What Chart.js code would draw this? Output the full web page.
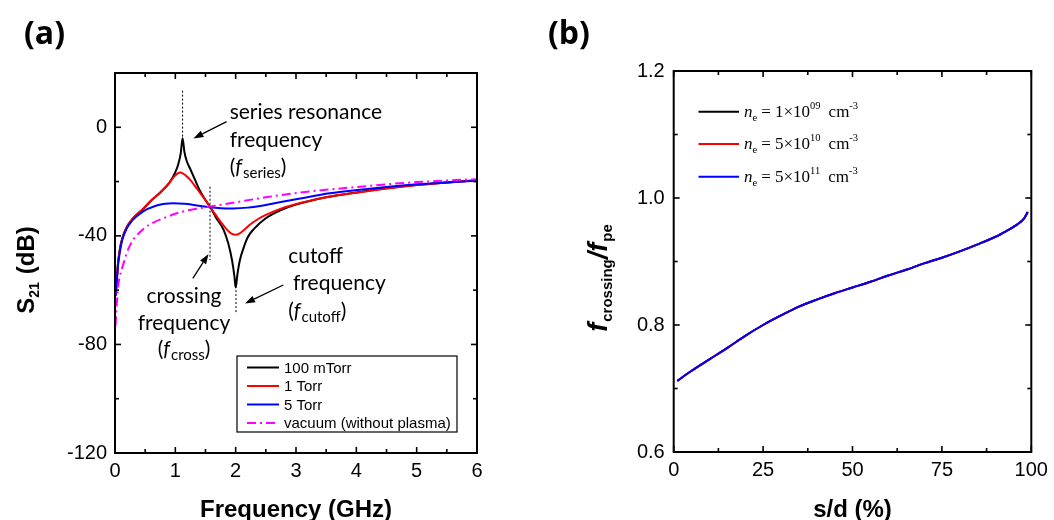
<!DOCTYPE html>
<html><head><meta charset="utf-8">
<script src="https://cdn.jsdelivr.net/npm/chart.js@4.4.1/dist/chart.umd.min.js"></script>
<style>
html,body{margin:0;padding:0;background:#fff}
body{width:1054px;height:520px;overflow:hidden;position:relative}
.pane{position:absolute;top:0;width:527px;height:520px}
</style></head>
<body>
<div class="pane" style="left:0"><canvas id="chartA" width="527" height="520"></canvas></div>
<div class="pane" style="left:527px"><canvas id="chartB" width="527" height="520"></canvas></div>
<script>
// ---------- Panel (a): S21 vs frequency ----------
const freqTicks = [0, 1, 2, 3, 4, 5, 6];
const freqMinorTicks = [0.5, 1.5, 2.5, 3.5, 4.5, 5.5];
const s21Ticks = [-120, -80, -40, 0];
const s21MinorTicks = [-100, -60, -20];

const f_100mTorr = [0.01,0.03,0.05,0.08,0.12,0.19,0.3,0.47,0.6,0.75,0.9,1.0,1.05,1.09,1.12,1.15,1.19,1.24,1.32,1.41,1.5,1.58,1.68,1.8,1.88,1.94,1.98,2.0,2.03,2.07,2.13,2.2,2.3,2.5,2.75,3.0,3.5,4.0,4.5,5.0,5.5,6.0];
const s21_100mTorr = [-62,-56,-50,-45,-41,-37,-33.5,-30,-27,-24,-20.5,-16.5,-13.5,-9.5,-4,-9,-12.5,-15,-19,-23.5,-26.8,-29.5,-33.5,-37.8,-43,-49,-55,-59,-54,-49,-44.5,-40.5,-37.5,-33.5,-30.5,-28.5,-25.8,-24,-22.5,-21.3,-20.3,-19.5];

const f_1Torr = [0.01,0.03,0.05,0.08,0.12,0.19,0.3,0.47,0.6,0.75,0.9,0.98,1.04,1.08,1.13,1.18,1.24,1.32,1.41,1.5,1.58,1.66,1.75,1.85,1.93,2.0,2.06,2.15,2.24,2.38,2.51,2.75,3.07,3.56,4.06,4.5,5.0,5.5,6.0];
const s21_1Torr = [-62,-56,-50,-45,-41,-37,-33.5,-30,-27,-24,-20.5,-18.2,-17,-16.7,-17.1,-17.9,-19.2,-21.5,-24.2,-26.9,-29.5,-32,-34.8,-37.6,-39.2,-39.6,-39.2,-37.6,-35.8,-33.7,-32.2,-30,-27.9,-25.5,-23.9,-22.6,-21.3,-20.3,-19.5];

const f_5Torr = [0.01,0.03,0.05,0.08,0.12,0.19,0.28,0.36,0.5,0.63,0.8,0.97,1.15,1.3,1.45,1.58,1.75,1.96,2.2,2.5,2.75,3.07,3.56,4.06,4.5,5.0,5.5,6.0];
const s21_5Torr = [-62,-57,-51,-46,-41.5,-37.5,-34.5,-32.8,-30.5,-29.3,-28.3,-28,-28.2,-28.6,-29.1,-29.5,-29.8,-29.9,-29.6,-28.6,-27.5,-26.2,-24.3,-23,-22,-21,-20.3,-19.7];

const f_vacuum = [0.01,0.02,0.03,0.05,0.08,0.11,0.15,0.2,0.3,0.47,0.6,0.86,1.13,1.3,1.58,1.96,2.5,2.97,3.56,4.06,4.5,5.0,5.5,6.0];
const s21_vacuum = [-73,-68,-65,-59,-55,-52.5,-49.5,-46,-41.5,-37.5,-35.5,-33,-31,-30.2,-29.2,-27.8,-25.8,-24.3,-22.9,-21.9,-21,-20.2,-19.6,-19.1];

const legendLabelsA = ['100 mTorr', '1 Torr', '5 Torr', 'vacuum (without plasma)'];

// ---------- Panel (b): f_crossing / f_pe vs s/d ----------
const sdTicks = [0, 25, 50, 75, 100];
const sdMinorTicks = [12.5, 37.5, 62.5, 87.5];
const ratioTicks = [0.6, 0.8, 1.0, 1.2];
const ratioMinorTicks = [0.7, 0.9, 1.1];

const sdPercent = [1,5,10,15,20,25,30,35,40,45,50,55,60,65,70,75,80,85,90,93,96,98,99];
const ratio_ne1e9  = [0.712,0.728,0.746,0.764,0.783,0.800,0.815,0.829,0.840,0.850,0.859,0.868,0.878,0.887,0.897,0.906,0.916,0.927,0.939,0.948,0.958,0.968,0.978];
const ratio_ne5e10 = [0.712,0.728,0.746,0.764,0.783,0.800,0.815,0.829,0.840,0.850,0.859,0.868,0.878,0.887,0.897,0.906,0.916,0.927,0.939,0.948,0.958,0.968,0.978];
const ratio_ne5e11 = [0.712,0.728,0.746,0.764,0.783,0.800,0.815,0.829,0.840,0.850,0.859,0.868,0.878,0.887,0.897,0.906,0.916,0.927,0.939,0.948,0.958,0.968,0.978];
const neMantissa = ['1', '5', '5'];
const neExponent = ['09', '10', '11'];

// ---------- helpers ----------
const SANS = '"Liberation Sans", Arial, sans-serif';
const CAL = 'Lato, "Open Sans", sans-serif';
const PANEL = '"Open Sans", Lato, sans-serif';
const SERIF = '"Liberation Serif", "Times New Roman", serif';
Chart.defaults.font.family = SANS;
Chart.defaults.color = '#000';

const pts = (xs, ys) => xs.map((x, i) => ({x, y: ys[i]}));
function seg(ctx, x1, y1, x2, y2) { ctx.beginPath(); ctx.moveTo(x1, y1); ctx.lineTo(x2, y2); ctx.stroke(); }
function runs(ctx, parts, x, y, align) {
  let w = 0;
  parts.forEach(p => { ctx.font = p.f; p.w = ctx.measureText(p.t).width + (p.gap || 0); w += p.w; });
  let cx = align === 'center' ? x - w / 2 : x;
  parts.forEach(p => { ctx.font = p.f; ctx.fillText(p.t, cx, y + (p.dy || 0)); cx += p.w; });
}
function arrow(ctx, x1, y1, x2, y2) {
  const ang = Math.atan2(y2 - y1, x2 - x1), L = 10, W = 3.5;
  const bx = x2 - L * Math.cos(ang), by = y2 - L * Math.sin(ang);
  ctx.lineWidth = 1.3; seg(ctx, x1, y1, bx, by);
  ctx.beginPath(); ctx.moveTo(x2, y2);
  ctx.lineTo(bx + W * Math.sin(ang), by - W * Math.cos(ang));
  ctx.lineTo(bx - W * Math.sin(ang), by + W * Math.cos(ang));
  ctx.closePath(); ctx.fill();
}

const framePlugin = {
  id: 'frame',
  afterDatasetsDraw(chart, args, o) {
    const {ctx, chartArea: a, scales: {x, y}} = chart;
    ctx.save(); ctx.strokeStyle = '#000'; ctx.lineWidth = 1.6;
    const X = (vals, len) => vals.forEach(v => { const p = x.getPixelForValue(v); seg(ctx, p, a.bottom, p, a.bottom - len); seg(ctx, p, a.top, p, a.top + len); });
    const Y = (vals, len) => vals.forEach(v => { const p = y.getPixelForValue(v); seg(ctx, a.left, p, a.left + len, p); seg(ctx, a.right, p, a.right - len, p); });
    X(o.xMajor, 6); X(o.xMinor, 4); Y(o.yMajor, 6); Y(o.yMinor, 4);
    ctx.lineWidth = 2; ctx.strokeRect(a.left, a.top, a.right - a.left, a.bottom - a.top);
    ctx.restore();
  }
};

// annotation anchors for panel (a), in data units (GHz, dB)
const annotA = {
  dotted: [[1.12, 13.5, 1.12, -4], [1.575, -21.9, 1.575, -48.9], [2.005, -58.5, 2.005, -68.4]],
  arrows: [[1.85, 2.1, 1.30, -4.1], [1.29, -55.7, 1.55, -46.7], [2.79, -58.1, 2.155, -64.9]]
};

const decorA = {
  id: 'decorA',
  afterDraw(chart) {
    const {ctx, chartArea: a, scales: {x, y}} = chart;
    const X = v => x.getPixelForValue(v), Y = v => y.getPixelForValue(v);
    ctx.save(); ctx.fillStyle = '#000'; ctx.strokeStyle = '#000';
    ctx.lineWidth = 1; ctx.setLineDash([2, 2]);
    annotA.dotted.forEach(d => seg(ctx, X(d[0]), Y(d[1]), X(d[2]), Y(d[3])));
    ctx.setLineDash([]);
    annotA.arrows.forEach(d => arrow(ctx, X(d[0]), Y(d[1]), X(d[2]), Y(d[3])));
    ctx.textBaseline = 'alphabetic';
    const F = '21px ' + CAL, FI = 'italic 21px ' + CAL, FS = '15px ' + CAL;
    runs(ctx, [{t: 'series resonance', f: F}], X(1.9), Y(2.95), 'left');
    runs(ctx, [{t: 'frequency', f: F}], X(1.9), Y(-7.2), 'left');
    runs(ctx, [{t: '(', f: F}, {t: 'f', f: FI, gap: 1}, {t: 'series', f: FS, dy: 4}, {t: ')', f: F}], X(1.9), Y(-17.3), 'left');
    runs(ctx, [{t: 'crossing', f: F}], X(1.144), Y(-64.9), 'center');
    runs(ctx, [{t: 'frequency', f: F}], X(1.144), Y(-74.65), 'center');
    runs(ctx, [{t: '(', f: F}, {t: 'f', f: FI, gap: 1}, {t: 'cross', f: FS, dy: 4}, {t: ')', f: F}], X(1.144), Y(-84.4), 'center');
    runs(ctx, [{t: 'cutoff', f: F}], X(2.87), Y(-50), 'left');
    runs(ctx, [{t: 'frequency', f: F}], X(2.95), Y(-60), 'left');
    runs(ctx, [{t: '(', f: F}, {t: 'f', f: FI, gap: 1}, {t: 'cutoff', f: FS, dy: 4}, {t: ')', f: F}], X(2.87), Y(-70.1), 'left');
    // legend box
    const lx = 237, ly = 356, lw = 220, lh = 76;
    ctx.fillStyle = '#fff'; ctx.fillRect(lx, ly, lw, lh);
    ctx.lineWidth = 1.2; ctx.strokeRect(lx, ly, lw, lh);
    ctx.fillStyle = '#000'; ctx.font = '15px ' + SANS; ctx.textBaseline = 'middle';
    const rows = [367.5, 386, 404.5, 423];
    chart.data.datasets.forEach((ds, i) => {
      ctx.strokeStyle = ds.borderColor; ctx.lineWidth = 2; ctx.setLineDash(ds.borderDash || []);
      seg(ctx, 247, rows[i], 279, rows[i]); ctx.setLineDash([]);
      ctx.fillText(ds.label, 284, rows[i] + 1);
    });
    ctx.textBaseline = 'alphabetic'; ctx.textAlign = 'left';
    runs(ctx, [{t: 'Frequency (GHz)', f: 'bold 24px ' + SANS}], (a.left + a.right) / 2, 517, 'center');
    ctx.save(); ctx.translate(34, 270); ctx.rotate(-Math.PI / 2);
    runs(ctx, [{t: 'S', f: 'bold 24px ' + SANS}, {t: '21', f: 'bold 14px ' + SANS, dy: 5, gap: 8}, {t: '(dB)', f: 'bold 24px ' + SANS}], 0, 0, 'center');
    ctx.restore();
    runs(ctx, [{t: '(a)', f: 'bold 32px ' + PANEL}], 24, 44, 'left');
    ctx.restore();
  }
};

const decorB = {
  id: 'decorB',
  afterDraw(chart) {
    const {ctx, chartArea: a} = chart;
    ctx.save(); ctx.fillStyle = '#000'; ctx.textBaseline = 'alphabetic';
    const rows = [111.7, 144, 176.7];
    const legendOrder = [0, 1, 2];
    legendOrder.forEach(i => {
      const ds = chart.data.datasets[i];
      ctx.strokeStyle = ds.borderColor; ctx.lineWidth = 2;
      seg(ctx, 171.5, rows[i], 212, rows[i]);
      const B = '17px ' + SERIF, S = '10.5px ' + SERIF;
      runs(ctx, [{t: 'n', f: 'italic 17px ' + SERIF}, {t: 'e', f: S, dy: 4, gap: 4}, {t: '= ' + neMantissa[i] + '\u00d710', f: B},
                 {t: neExponent[i], f: S, dy: -8, gap: 8}, {t: 'cm', f: B}, {t: '-3', f: S, dy: -8}], 217, rows[i] + 5, 'left');
    });
    runs(ctx, [{t: 's/d (%)', f: 'bold 24px ' + SANS}], (a.left + a.right) / 2, 517, 'center');
    ctx.save(); ctx.translate(80, 278); ctx.rotate(-Math.PI / 2);
    const BI = 'bold italic 27px ' + SANS, BS = 'bold 15px ' + SANS;
    runs(ctx, [{t: 'f', f: BI, gap: 1}, {t: 'crossing', f: BS, dy: 5}, {t: '/', f: BI}, {t: 'f', f: BI, gap: 1}, {t: 'pe', f: BS, dy: 5}], 0, 0, 'center');
    ctx.restore();
    runs(ctx, [{t: '(b)', f: 'bold 32px ' + PANEL}], 21, 44, 'left');
    ctx.restore();
  }
};

const tickFont = {size: 20, family: SANS};
function axisCfg(min, max, ticks, fmt, fit, pad) {
  return {
    type: 'linear', min, max,
    grid: {display: false, drawTicks: false}, border: {display: false},
    ticks: {font: tickFont, color: '#000', padding: pad, autoSkip: false, maxRotation: 0, callback: fmt},
    afterBuildTicks: s => { s.ticks = ticks.map(v => ({value: v})); },
    afterFit: fit
  };
}

new Chart(document.getElementById('chartA'), {
  type: 'line',
  data: {datasets: [
    {label: legendLabelsA[0], data: pts(f_100mTorr, s21_100mTorr), borderColor: '#000000'},
    {label: legendLabelsA[1], data: pts(f_1Torr, s21_1Torr), borderColor: '#ff0000'},
    {label: legendLabelsA[2], data: pts(f_5Torr, s21_5Torr), borderColor: '#0000ff'},
    {label: legendLabelsA[3], data: pts(f_vacuum, s21_vacuum), borderColor: '#ff00ff', borderDash: [9, 4, 2, 4]}
  ].map((d, i) => Object.assign(d, {borderWidth: 2, pointRadius: 0, cubicInterpolationMode: 'monotone', order: 3 - i}))},
  options: {
    responsive: false, animation: false, devicePixelRatio: 1,
    layout: {padding: {left: 0, top: 73, right: 50, bottom: 0}},
    plugins: {legend: {display: false}, tooltip: {enabled: false},
      frame: {xMajor: freqTicks, xMinor: freqMinorTicks, yMajor: s21Ticks, yMinor: s21MinorTicks}},
    scales: {
      x: axisCfg(0, 6, freqTicks, v => String(v), s => { s.height = 67; }, 6),
      y: axisCfg(-120, 20, s21Ticks, v => String(v), s => { s.width = 115; }, 8)
    }
  },
  plugins: [framePlugin, decorA]
});

new Chart(document.getElementById('chartB'), {
  type: 'line',
  data: {datasets: [
    {label: 'ne1', data: pts(sdPercent, ratio_ne1e9), borderColor: '#000000'},
    {label: 'ne2', data: pts(sdPercent, ratio_ne5e10), borderColor: '#ff0000'},
    {label: 'ne3', data: pts(sdPercent, ratio_ne5e11), borderColor: '#0000ff'}
  ].map((d, i) => Object.assign(d, {borderWidth: 2, pointRadius: 0, cubicInterpolationMode: 'monotone', order: 2 - i}))},
  options: {
    responsive: false, animation: false, devicePixelRatio: 1,
    layout: {padding: {left: 0, top: 71, right: 22.7, bottom: 0}},
    plugins: {legend: {display: false}, tooltip: {enabled: false},
      frame: {xMajor: sdTicks, xMinor: sdMinorTicks, yMajor: ratioTicks, yMinor: ratioMinorTicks}},
    scales: {
      x: axisCfg(0, 100, sdTicks, v => String(v), s => { s.height = 68; }, 6),
      y: axisCfg(0.6, 1.2, ratioTicks, v => v.toFixed(1), s => { s.width = 146.7; }, 9)
    }
  },
  plugins: [framePlugin, decorB]
});
</script>
</body></html>
